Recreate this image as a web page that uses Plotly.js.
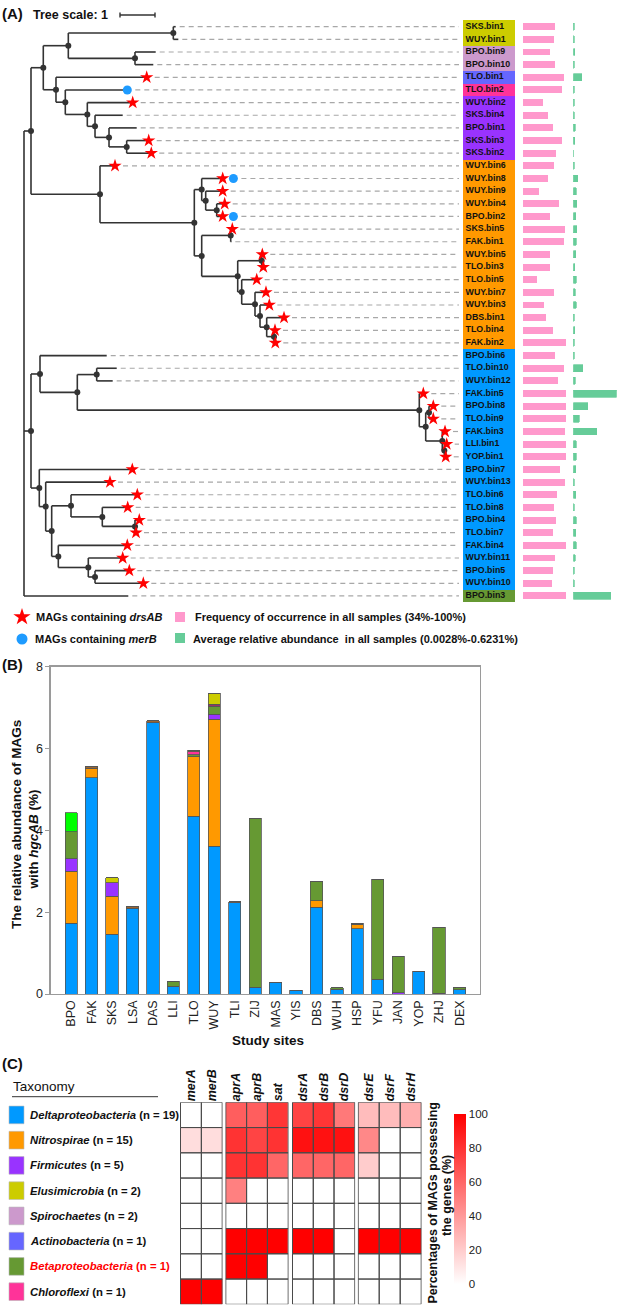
<!DOCTYPE html>
<html><head><meta charset="utf-8">
<script src="https://cdn.plot.ly/plotly-3.0.1.min.js"></script>
<style>html,body{margin:0;padding:0;background:#fff}#chart{width:620px;height:1310px}</style>
</head><body><div id="chart"></div>
<script>
// ---------------- DATA ----------------
// Phylogenetic tree: internal node = [branchDepth, child, child...]; leaf = [name, tipDepth] (tree units)
const TREE = [0,
  [0.2,
    [0.551,
      [1.266,
        [4.266, ['SKS.bin1',4.334], ['WUY.bin1',4.409]],
        [3.171, ['BPO.bin9',3.763], ['BPO.bin10',3.694]]],
      [0.914, ['TLO.bin1',3.506],
        [1.18, ['TLO.bin2',2.837],
          [1.809, ['WUY.bin2',3.106],
            [2.029, ['SKS.bin4',2.82],
              [2.429, ['BPO.bin1',3.22],
                [2.934, ['SKS.bin3',3.563], ['SKS.bin2',3.637]]]]]]]],
    [2.171, ['WUY.bin6',2.6],
      [4.866,
        [5.077, ['WUY.bin8',5.677],
          [5.191, ['WUY.bin9',5.677],
            [5.506, ['WUY.bin4',5.734], ['BPO.bin2',5.677]]]],
        [5.077,
          [5.906, ['SKS.bin5',5.951], ['FAK.bin1',5.923]],
          [6.106,
            [6.791, ['WUY.bin5',6.809], ['TLO.bin3',6.837]],
            [6.22, ['TLO.bin5',6.649],
              [6.6, ['WUY.bin7',6.914],
                [6.743, ['WUY.bin3',7.009],
                  [6.934, ['DBS.bin1',7.429],
                    [7.143, ['TLO.bin4',7.171], ['FAK.bin2',7.18]]]]]]]]]]],
  [0.2,
    [0.457, ['BPO.bin6',2.363],
      [1.523,
        [2.077, ['TLO.bin10',2.649], ['WUY.bin12',2.534]],
        [11.294, ['FAK.bin5',11.409],
          [11.477,
            [11.571, ['BPO.bin8',11.694], ['TLO.bin9',11.694]],
            [11.951, ['FAK.bin3',12.029],
              [12.009, ['LLI.bin1',12.077], ['YOP.bin1',12.049]]]]]]],
    [0.437, ['BPO.bin7',3.094],
      [0.62, ['WUY.bin13',2.457],
        [0.791,
          [1.343, ['TLO.bin6',3.237],
            [2.237, ['TLO.bin8',2.963],
              [3.171, ['BPO.bin4',3.294], ['TLO.bin7',3.2]]]],
          [0.98, ['FAK.bin4',2.951],
            [1.837, ['WUY.bin11',2.82],
              [2.029, ['BPO.bin5',3.009], ['WUY.bin10',3.409]]]]]]]],
  ['BPO.bin3',2.98]
];

const magNames = ['SKS.bin1','WUY.bin1','BPO.bin9','BPO.bin10','TLO.bin1','TLO.bin2','WUY.bin2','SKS.bin4','BPO.bin1','SKS.bin3','SKS.bin2',
 'WUY.bin6','WUY.bin8','WUY.bin9','WUY.bin4','BPO.bin2','SKS.bin5','FAK.bin1','WUY.bin5','TLO.bin3','TLO.bin5','WUY.bin7','WUY.bin3','DBS.bin1','TLO.bin4','FAK.bin2',
 'BPO.bin6','TLO.bin10','WUY.bin12','FAK.bin5','BPO.bin8','TLO.bin9','FAK.bin3','LLI.bin1','YOP.bin1','BPO.bin7','WUY.bin13','TLO.bin6','TLO.bin8','BPO.bin4','TLO.bin7','FAK.bin4','WUY.bin11','BPO.bin5','WUY.bin10','BPO.bin3'];
const magTaxon = ['Elusimicrobia','Elusimicrobia','Spirochaetes','Spirochaetes','Actinobacteria','Chloroflexi',
 'Firmicutes','Firmicutes','Firmicutes','Firmicutes','Firmicutes',
 'Nitrospirae','Nitrospirae','Nitrospirae','Nitrospirae','Nitrospirae','Nitrospirae','Nitrospirae','Nitrospirae','Nitrospirae','Nitrospirae','Nitrospirae','Nitrospirae','Nitrospirae','Nitrospirae','Nitrospirae',
 'Deltaproteobacteria','Deltaproteobacteria','Deltaproteobacteria','Deltaproteobacteria','Deltaproteobacteria','Deltaproteobacteria','Deltaproteobacteria','Deltaproteobacteria','Deltaproteobacteria','Deltaproteobacteria','Deltaproteobacteria','Deltaproteobacteria','Deltaproteobacteria','Deltaproteobacteria','Deltaproteobacteria','Deltaproteobacteria','Deltaproteobacteria','Deltaproteobacteria','Deltaproteobacteria',
 'Betaproteobacteria'];
const magFreq = [75,72,63,75,96,91,48,58,70,91,76, 73,58,38,84,62,98,96,62,62,34,72,50,54,70,100,
 75,95,82,100,100,100,97,100,100,85,97,79,73,78,70,100,75,69,67,100];
const magAbund = [0.015,0.015,0.02,0.012,0.12,0.015,0.012,0.012,0.03,0.02,0.0028,
 0.015,0.062,0.04,0.05,0.035,0.05,0.04,0.035,0.02,0.04,0.03,0.045,0.015,0.02,0.015,
 0.015,0.139,0.03,0.6231,0.206,0.086,0.34,0.04,0.045,0.035,0.015,0.035,0.015,0.045,0.035,0.045,0.03,0.015,0.015,0.537];
const drsAB = ['TLO.bin1','WUY.bin2','SKS.bin3','SKS.bin2','WUY.bin6','WUY.bin8','WUY.bin9','WUY.bin4','BPO.bin2','SKS.bin5',
 'WUY.bin5','TLO.bin3','TLO.bin5','WUY.bin7','WUY.bin3','DBS.bin1','TLO.bin4','FAK.bin2','FAK.bin5','BPO.bin8','TLO.bin9',
 'FAK.bin3','LLI.bin1','YOP.bin1','BPO.bin7','WUY.bin13','TLO.bin6','TLO.bin8','BPO.bin4','TLO.bin7','FAK.bin4','WUY.bin11','BPO.bin5','WUY.bin10'];
const merB = ['TLO.bin2','WUY.bin8','BPO.bin2'];

// Panel B: stacked relative abundance (%)
const sites = ['BPO','FAK','SKS','LSA','DAS','LLI','TLO','WUY','TLI','ZIJ','MAS','YIS','DBS','WUH','HSP','YFU','JAN','YOP','ZHJ','DEX'];
const abDelta   = [1.73,5.29,1.46,2.10,6.63,0.19,4.34,3.61,2.23,0.17,0.29,0.08,2.12,0.12,1.60,0.36,0,0.56,0,0.11];
const abNitro   = [1.27,0.23,0.93,0,0,0,1.46,3.11,0,0,0,0,0.16,0,0.10,0,0,0,0,0];
const abFirm    = [0.30,0,0.33,0,0,0,0,0.12,0,0,0,0,0,0,0,0,0.03,0,0.02,0];
const abBeta    = [0.67,0,0,0,0,0.12,0.05,0.19,0,4.12,0,0.01,0.46,0.03,0,2.44,0.89,0,1.61,0.05];
const abChloro  = [0,0,0,0,0,0,0.07,0,0,0,0,0,0,0,0,0,0,0,0,0];
const abMagenta = [0,0,0,0,0,0,0,0.05,0,0,0,0,0,0,0,0,0,0,0,0];
const abBrown   = [0,0.04,0,0.03,0.05,0,0.04,0,0.03,0,0,0,0,0,0.03,0,0,0,0,0];
const abElusi   = [0,0,0.12,0,0,0,0,0.27,0,0,0,0,0,0,0,0,0,0,0,0];
const abLime    = [0.46,0,0,0,0,0,0,0,0,0,0,0,0,0,0,0,0,0,0,0];

// Panel C: heatmap
const taxa = ['Deltaproteobacteria','Nitrospirae','Firmicutes','Elusimicrobia','Spirochaetes','Actinobacteria','Betaproteobacteria','Chloroflexi'];
const taxaN = [19,15,5,2,2,1,1,1];
const taxaColor = {Deltaproteobacteria:'#0099ff',Nitrospirae:'#ff9900',Firmicutes:'#9933ff',Elusimicrobia:'#cccc00',
  Spirochaetes:'#cc99cc',Actinobacteria:'#6666ff',Betaproteobacteria:'#669933',Chloroflexi:'#ff3399'};
const genesMer = ['merA','merB'];
const genesApr = ['aprA','aprB','sat'];
const genesDsr = ['dsrA','dsrB','dsrD'];
const genesEFH = ['dsrE','dsrF','dsrH'];
const pctMer = [[0,0],[13.3,13.3],[0,0],[0,0],[0,0],[0,0],[0,0],[100,100]];
const pctApr = [[63.2,63.2,78.9],[80,73.3,80],[80,80,60],[50,0,0],[0,0,0],[100,100,100],[100,100,0],[0,0,0]];
const pctDsr = [[73.7,78.9,52.6],[93.3,93.3,93.3],[60,60,60],[0,0,0],[0,0,0],[100,100,0],[0,0,0],[0,0,0]];
const pctEFH = [[26.3,26.3,31.6],[46.7,0,0],[20,0,0],[0,0,0],[0,0,0],[100,100,100],[0,0,0],[0,0,0]];

// ---------------- LAYOUT HELPERS ----------------
const W = 620, H = 1310;
const px = v => v / W;
const py = v => 1 - v / H;
const ROOTX = 24, UNIT = 35;        // tree axis: pixel of depth 0, pixels per tree unit
const LEAF0 = 26.7, LSTEP = 12.65;  // leaf rows
const FONT = 'Liberation Sans, Arial, sans-serif';

// ---------------- TREE LAYOUT ----------------
let leafCount = 0;
const leaves = [];
const segX = [], segY = [], nodeX = [], nodeY = [];
function lay(node) {
  if (typeof node[0] === 'string') {
    const y = leafCount++;
    leaves.push({name: node[0], d: node[1], y});
    return {x: node[1], y};
  }
  const d = node[0];
  const kids = node.slice(1).map(lay);
  const y0 = kids[0].y, y1 = kids[kids.length - 1].y;
  segX.push(d, d, null); segY.push(y0, y1, null);
  kids.forEach(k => { segX.push(d, k.x, null); segY.push(k.y, k.y, null); });
  const y = (y0 + y1) / 2;
  nodeX.push(d); nodeY.push(y);
  return {x: d, y};
}
lay(TREE);
nodeX.pop(); nodeY.pop(); // no dot on root

const idx = magNames.map((_, i) => i);
const starX = [], starY = [], circX = [], circY = [], leadX = [], leadY = [];
const LEAD_END = (459 - ROOTX) / UNIT;
leaves.forEach(l => {
  const hasStar = drsAB.includes(l.name), hasCirc = merB.includes(l.name);
  let end = l.d + 4 / UNIT;
  if (hasStar) { starX.push(l.d); starY.push(l.y); end = l.d + 8 / UNIT; }
  if (hasCirc) {
    const cx = hasStar ? l.d + 10.7 / UNIT : l.d + 4 / UNIT;
    circX.push(cx); circY.push(l.y); end = cx + 8 / UNIT;
  }
  leadX.push(end, LEAD_END, null); leadY.push(l.y, l.y, null);
});

const traces = [];
traces.push({type:'scatter', mode:'lines', x:leadX, y:leadY, xaxis:'x', yaxis:'y',
  line:{color:'#a8a8a8', width:1.2, dash:'5px,4px'}, hoverinfo:'skip', showlegend:false});
traces.push({type:'scatter', mode:'lines', x:segX, y:segY, xaxis:'x', yaxis:'y',
  line:{color:'#333', width:1.6}, hoverinfo:'skip', showlegend:false});
traces.push({type:'scatter', mode:'markers', x:nodeX, y:nodeY, xaxis:'x', yaxis:'y',
  marker:{color:'#333', size:6}, hoverinfo:'skip', showlegend:false});
traces.push({type:'scatter', mode:'markers', x:starX, y:starY, xaxis:'x', yaxis:'y', name:'MAGs containing drsAB',
  marker:{symbol:'star', color:'#ff0000', size:10, line:{width:0}}, showlegend:false});
traces.push({type:'scatter', mode:'markers', x:circX, y:circY, xaxis:'x', yaxis:'y', name:'MAGs containing merB',
  marker:{symbol:'circle', color:'#1e9bff', size:9, line:{width:0}}, showlegend:false});
// tree scale bar (1 unit)
const sb0 = (120 - ROOTX) / UNIT, sbY = (15 - LEAF0) / LSTEP, sbT = 2.5 / LSTEP;
traces.push({type:'scatter', mode:'lines', xaxis:'x', yaxis:'y',
  x:[sb0, sb0 + 1, null, sb0, sb0, null, sb0 + 1, sb0 + 1],
  y:[sbY, sbY, null, sbY - sbT, sbY + sbT, null, sbY - sbT, sbY + sbT],
  line:{color:'#333', width:1.4}, hoverinfo:'skip', showlegend:false});

// label boxes + labels
traces.push({type:'bar', orientation:'h', xaxis:'x2', yaxis:'y', y:idx, x:idx.map(() => 1), base:0, width:1,
  marker:{color:magTaxon.map(t => taxaColor[t]), line:{width:0}}, hoverinfo:'skip', showlegend:false});
traces.push({type:'scatter', mode:'text', xaxis:'x2', yaxis:'y', x:idx.map(() => 0.055), y:idx, text:magNames,
  textposition:'middle right', textfont:{family:FONT, size:8.8, color:'#111', weight:'bold'}, hoverinfo:'skip', showlegend:false});
// frequency bars
traces.push({type:'bar', orientation:'h', xaxis:'x3', yaxis:'y', y:idx, x:magFreq, width:0.55,
  marker:{color:'#ff99cc', line:{width:0}}, name:'Frequency', showlegend:false});
// abundance bars
traces.push({type:'bar', orientation:'h', xaxis:'x4', yaxis:'y', y:idx, x:magAbund, width:0.55,
  marker:{color:'#66cc99', line:{width:0.7, color:'#66cc99'}}, name:'Abundance', showlegend:false});

// legend symbols for panel A (pixel overlay axis)
traces.push({type:'scatter', mode:'markers', xaxis:'x10', yaxis:'y10', x:[22], y:[617],
  marker:{symbol:'star', color:'#ff0000', size:13, line:{width:0}}, hoverinfo:'skip', showlegend:false});
traces.push({type:'scatter', mode:'markers', xaxis:'x10', yaxis:'y10', x:[22], y:[639],
  marker:{symbol:'circle', color:'#1e9bff', size:11, line:{width:0}}, hoverinfo:'skip', showlegend:false});
traces.push({type:'scatter', mode:'markers', xaxis:'x10', yaxis:'y10', x:[180], y:[617],
  marker:{symbol:'square', color:'#ff99cc', size:10, line:{width:0}}, hoverinfo:'skip', showlegend:false});
traces.push({type:'scatter', mode:'markers', xaxis:'x10', yaxis:'y10', x:[180], y:[638],
  marker:{symbol:'square', color:'#66cc99', size:10, line:{width:0}}, hoverinfo:'skip', showlegend:false});

// Panel B stacked bars
const stackSeries = [
  ['Deltaproteobacteria', abDelta, '#0099ff'],
  ['Nitrospirae', abNitro, '#ff9900'],
  ['Firmicutes', abFirm, '#9933ff'],
  ['Betaproteobacteria', abBeta, '#669933'],
  ['Chloroflexi', abChloro, '#ff3399'],
  ['Other (magenta)', abMagenta, '#993366'],
  ['Other (brown)', abBrown, '#996633'],
  ['Elusimicrobia', abElusi, '#cccc00'],
  ['Other (lime)', abLime, '#00ff00']
];
stackSeries.forEach(([nm, vals, col]) => {
  traces.push({type:'bar', xaxis:'x5', yaxis:'y5', x:sites, y:vals, name:nm, width:0.6,
    marker:{color:col, line:{color:'#555', width:0.8}}, showlegend:false});
});

// Panel C heatmaps
const cs = [[0,'#ffffff'],[1,'#ff0000']];
const groups = [[genesMer, pctMer, 'x6'], [genesApr, pctApr, 'x7'], [genesDsr, pctDsr, 'x8'], [genesEFH, pctEFH, 'x9']];
const rowIdx = taxa.map((_, i) => i);
groups.forEach(([genes, z, xa], gi) => {
  const tr = {type:'heatmap', xaxis:xa, yaxis:'y6', x:genes, y:rowIdx, z:z, zmin:0, zmax:100,
    colorscale:cs, showscale: gi === 3, hoverinfo:'z'};
  if (gi === 3) {
    tr.colorbar = {x:px(454), xanchor:'left', y:py(1199), yanchor:'middle', len:170, lenmode:'pixels',
      thickness:12, outlinewidth:0, xpad:0, ypad:0, tickvals:[0,20,40,60,80,100], ticks:'',
      tickfont:{family:FONT, size:11.5, color:'#222'}};
  }
  traces.push(tr);
});

// ---------------- LAYOUT ----------------
const hidden = {visible:false, fixedrange:true, showgrid:false, zeroline:false};
const shapes = [];
groups.forEach(([genes, z, xa]) => {
  genes.forEach((g, c) => rowIdx.forEach(r => {
    shapes.push({type:'rect', xref:xa, yref:'y6', x0:c - 0.5, x1:c + 0.5, y0:r - 0.5, y1:r + 0.5,
      line:{color:'#4a4a4a', width:1}, fillcolor:'rgba(0,0,0,0)', layer:'above'});
  }));
});
taxa.forEach((t, r) => {
  shapes.push({type:'rect', xref:'paper', yref:'y6', x0:px(9), x1:px(24), y0:r - 0.35, y1:r + 0.35,
    fillcolor:taxaColor[t], line:{color:'#bbbbbb', width:0.6}});
});
shapes.push({type:'line', xref:'paper', yref:'paper', x0:px(12), x1:px(158), y0:py(1096.7), y1:py(1096.7),
  line:{color:'#333', width:1}});

const ann = [];
const A = (text, x, y, opt = {}) => ann.push(Object.assign({text, x, y, xref:'paper', yref:'paper', showarrow:false,
  xanchor:'left', yanchor:'middle', font:{family:FONT, size:11, color:'#111', weight:'bold'}}, opt));
A('(A)', px(0), py(13), {font:{family:FONT, size:15, color:'#111', weight:'bold'}});
A('Tree scale: 1', px(31), py(15), {font:{family:FONT, size:12.5, color:'#111', weight:'bold'}});
A('MAGs containing <i>drsAB</i>', px(33.5), py(617));
A('Frequency of occurrence in all samples (34%-100%)', px(192.5), py(617));
A('MAGs containing <i>merB</i>', px(33), py(639));
A('Average relative abundance&nbsp; in all samples (0.0028%-0.6231%)', px(190.5), py(639));
A('(B)', px(0), py(664), {font:{family:FONT, size:15, color:'#111', weight:'bold'}});
A('The relative abundance of MAGs', px(16), py(825), {xanchor:'center', textangle:-90, font:{family:FONT, size:13.5, color:'#111', weight:'bold'}});
A('with <i>hgcAB</i> (%)', px(32.5), py(840), {xanchor:'center', textangle:-90, font:{family:FONT, size:13.5, color:'#111', weight:'bold'}});
A('Study sites', px(267.7), py(1040), {xanchor:'center', font:{family:FONT, size:13.5, color:'#111', weight:'bold'}});
A('(C)', px(0), py(1063), {font:{family:FONT, size:15, color:'#111', weight:'bold'}});
A('Taxonomy', px(11), py(1086), {font:{family:FONT, size:13.5, color:'#111'}});
A('Percentages of MAGs possessing', px(432.5), py(1203), {xanchor:'center', textangle:-90, font:{family:FONT, size:12.5, color:'#111', weight:'bold'}});
A('the genes (%)', px(447), py(1196), {xanchor:'center', textangle:-90, font:{family:FONT, size:12.5, color:'#111', weight:'bold'}});
taxa.forEach((t, r) => {
  ann.push({text:'<i>' + t + '</i> (n = ' + taxaN[r] + ')', xref:'paper', yref:'y6', x:px(28), y:r, showarrow:false,
    xanchor:'left', yanchor:'middle',
    font:{family:FONT, size:11.3, weight:'bold', color: t === 'Betaproteobacteria' ? '#ff0000' : '#111'}});
});

const heatX = (d0, d1) => ({domain:[px(d0), px(d1)], anchor:'y6', type:'category', side:'top', tickangle:-90,
  ticks:'', showgrid:false, zeroline:false, showline:false, fixedrange:true,
  tickfont:{family:FONT, size:12.5, color:'#111', weight:'bold', style:'italic'}});

const layout = {
  width:W, height:H, margin:{l:0, r:0, t:0, b:0}, paper_bgcolor:'#ffffff', plot_bgcolor:'rgba(0,0,0,0)',
  font:{family:FONT, color:'#111'}, showlegend:false, barmode:'stack', bargap:0,
  xaxis: Object.assign({}, hidden, {domain:[0, 1], range:[-ROOTX / UNIT, (W - ROOTX) / UNIT], anchor:'y'}),
  yaxis: Object.assign({}, hidden, {domain:[py(610), 1], range:[(610 - LEAF0) / LSTEP, -LEAF0 / LSTEP], anchor:'x'}),
  xaxis2: Object.assign({}, hidden, {domain:[px(462.7), px(515)], range:[0, 1], anchor:'y'}),
  xaxis3: Object.assign({}, hidden, {domain:[px(522.7), px(566)], range:[0, 100], anchor:'y'}),
  xaxis4: Object.assign({}, hidden, {domain:[px(573.3), px(616.6)], range:[0, 0.6231], anchor:'y'}),
  xaxis5: {domain:[px(50.7), px(480)], anchor:'y5', type:'category', range:[-1, 20], tickangle:-90, ticks:'',
    showline:true, mirror:true, linecolor:'#9a9a9a', linewidth:1.3, showgrid:false, zeroline:false, fixedrange:true,
    tickfont:{family:FONT, size:12.5, color:'#222'}},
  yaxis5: {domain:[py(994), py(666.7)], anchor:'x5', range:[0, 8], tickvals:[0,2,4,6,8], ticks:'outside', ticklen:4,
    tickcolor:'#9a9a9a', showline:true, mirror:true, linecolor:'#9a9a9a', linewidth:1.3, showgrid:false, zeroline:false,
    fixedrange:true, tickfont:{family:FONT, size:12.5, color:'#222'}},
  xaxis6: heatX(180, 222.7),
  xaxis7: heatX(225.3, 288.7),
  xaxis8: heatX(292, 355.3),
  xaxis9: heatX(357.7, 421.7),
  yaxis6: Object.assign({}, hidden, {domain:[py(1304.3), py(1102.3)], range:[7.5, -0.5], anchor:'x6'}),
  xaxis10: Object.assign({}, hidden, {domain:[0, 1], range:[0, W], anchor:'y10'}),
  yaxis10: Object.assign({}, hidden, {domain:[0, 1], range:[H, 0], anchor:'x10'}),
  shapes, annotations: ann
};

Plotly.newPlot('chart', traces, layout, {displayModeBar:false, staticPlot:true});
</script></body></html>
